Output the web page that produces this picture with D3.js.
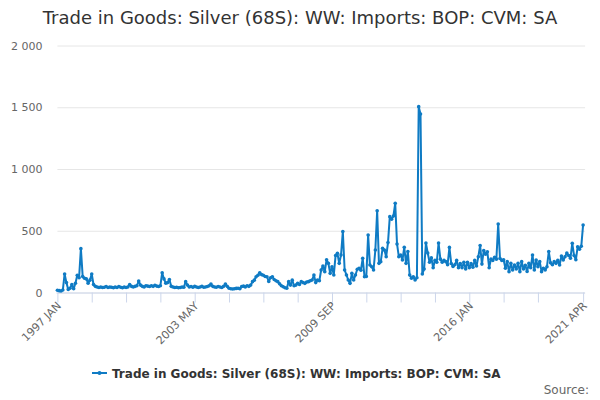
<!DOCTYPE html>
<html>
<head>
<meta charset="utf-8">
<script src="https://cdn.jsdelivr.net/npm/d3@7"></script>
<style>
  html, body { margin: 0; padding: 0; background: #fff; }
  svg { display: block; font-family: "DejaVu Sans", sans-serif; }
</style>
</head>
<body>
<svg id="chart" width="600" height="400"></svg>
<script>
// ---- Data ----
const title = "Trade in Goods: Silver (68S): WW: Imports: BOP: CVM: SA";
const seriesName = "Trade in Goods: Silver (68S): WW: Imports: BOP: CVM: SA";
const startYear = 1997;
const monthNames = ["JAN","FEB","MAR","APR","MAY","JUN","JUL","AUG","SEP","OCT","NOV","DEC"];

const values = [
  // 1997-1999 (i0-29)
  18, 15, 12, 20, 150, 80, 25, 35, 65, 30, 75, 140, 120, 355, 130, 115, 110, 75, 100, 150,
  65, 50, 45, 40, 45, 40, 42, 48, 40, 45,
  // i30-62
  42, 38, 45, 40, 48, 42, 38, 44, 40, 45,
  65, 50, 45, 50, 55, 93, 60, 50, 45, 55,
  52, 48, 55, 50, 58, 52, 48, 55,
  160, 110, 75, 80, 105,
  // i63-107
  50, 45, 40, 42, 38, 40, 45, 42,
  88, 60, 45,
  48, 42, 50, 45, 40, 45, 50, 42, 45, 48, 55,
  68, 50, 45,
  42, 48, 45, 40, 50,
  68, 50,
  35, 30, 28, 30, 33, 35, 30,
  48, 52, 45, 55, 50, 60,
  // i108-119
  88, 100, 128, 140, 160, 145, 140, 130, 128, 90, 120, 128,
  // i120-158
  105, 95, 88, 70, 55, 47, 38, 34, 88, 60,
  100, 55, 60, 74, 65, 88, 80, 74, 85, 88,
  95, 101, 142, 80, 101, 95, 182, 215, 169, 265,
  236, 155, 209, 142, 300, 317, 236, 304, 493,
  // i159-202
  182, 142, 101, 74, 155, 101, 142, 188, 196, 180,
  277, 128, 130, 466, 223, 209, 182, 344, 662, 236,
  250, 358, 344, 290, 404, 614, 593, 620, 722, 393,
  290, 304, 263, 366, 236, 331, 142, 115, 128, 101,
  120, 1505, 1445, 150,
  // i203-243
  190, 400, 320, 245, 280, 200, 260, 245, 400, 270,
  245, 260, 250, 225, 365, 235, 210, 225, 260, 200,
  235, 200, 245, 190, 245, 200, 235, 205, 260, 215,
  290, 380, 230, 340, 310, 330, 200, 270, 260, 285, 270,
  // i244-271
  555, 275, 260, 265, 196, 250, 169, 236, 182, 223,
  190, 236, 169, 250, 190, 220, 170, 236, 200, 304,
  182, 263, 209, 250, 169, 196, 182, 209,
  // i272-291
  331, 240, 225, 250, 236, 260, 223, 296, 263, 290,
  320, 300, 277, 398, 300, 265, 371, 350, 375, 547
];

const categories = values.map((_, i) => `${startYear + Math.floor(i / 12)} ${monthNames[i % 12]}`);
const xTickLabels = ["1997 JAN", "2003 MAY", "2009 SEP", "2016 JAN", "2021 APR"];
const xTickStep = 19;
const yTicks = [0, 500, 1000, 1500, 2000];

// ---- Layout ----
const svg = d3.select("#chart");
const plotLeft = 57.4, plotRight = 583.1, plotTop = 45.5, plotBottom = 292.5;

const x = d3.scalePoint().domain(categories).range([plotLeft, plotRight]);
const y = d3.scaleLinear().domain([0, 2000]).range([plotBottom, plotTop]);

// Title
svg.append("text")
  .attr("x", 300).attr("y", 24)
  .attr("text-anchor", "middle")
  .attr("font-size", 18)
  .attr("fill", "#333333")
  .text(title);

// Y axis with grid
const fmt = d => d3.format(",")(d).replace(/,/g, " ");
const yAxis = svg.append("g")
  .attr("transform", `translate(${plotLeft},0)`)
  .call(d3.axisLeft(y).tickValues(yTicks).tickFormat(fmt)
    .tickSize(-(plotRight - plotLeft + 2)).tickPadding(15));
yAxis.select(".domain").remove();
yAxis.selectAll(".tick line").attr("stroke", "#e6e6e6").attr("stroke-width", 1);
yAxis.selectAll(".tick text")
  .attr("fill", "#666666").attr("font-size", 11)
  .attr("font-family", "DejaVu Sans, sans-serif");

// X axis
const tickCats = [];
for (let i = 0; i <= 266; i += xTickStep) tickCats.push(categories[i]);
tickCats.push(categories[categories.length - 1]);

const xAxis = svg.append("g")
  .attr("transform", `translate(0,${plotBottom})`)
  .call(d3.axisBottom(x).tickValues(tickCats)
    .tickFormat(d => xTickLabels.includes(d) ? d : "")
    .tickSize(10).tickSizeOuter(0));
xAxis.select(".domain").attr("stroke", "#ccd6eb").attr("d", `M${plotLeft - 1},0.5H${plotRight + 2}`);
xAxis.selectAll(".tick line").attr("stroke", "#ccd6eb");
xAxis.selectAll(".tick text")
  .attr("fill", "#666666").attr("font-size", 11)
  .attr("font-family", "DejaVu Sans, sans-serif")
  .attr("text-anchor", "end")
  .attr("dy", 0)
  .attr("y", 0)
  .attr("transform", "translate(4,14) rotate(-45)");

// Line
const color = "#0f7bc4";
const line = d3.line()
  .x((d, i) => x(categories[i]))
  .y(d => y(d));
svg.append("path")
  .datum(values)
  .attr("fill", "none")
  .attr("stroke", color)
  .attr("stroke-width", 2)
  .attr("stroke-linejoin", "round")
  .attr("d", line);

svg.append("g").selectAll("circle")
  .data(values)
  .join("circle")
  .attr("cx", (d, i) => x(categories[i]))
  .attr("cy", d => y(d))
  .attr("r", 1.8)
  .attr("fill", color);

// Legend
const lg = svg.append("g").attr("transform", "translate(0,373)");
lg.append("line").attr("x1", 92).attr("x2", 107).attr("y1", 0).attr("y2", 0)
  .attr("stroke", color).attr("stroke-width", 2);
lg.append("circle").attr("cx", 99.5).attr("cy", 0).attr("r", 2).attr("fill", color);
lg.append("text").attr("x", 112).attr("y", 4.5)
  .attr("font-size", 12).attr("font-weight", "bold").attr("fill", "#333333")
  .text(seriesName);

// Credits
svg.append("text").attr("x", 589).attr("y", 394)
  .attr("text-anchor", "end").attr("font-size", 12).attr("fill", "#666666")
  .text("Source:");
</script>
</body>
</html>
